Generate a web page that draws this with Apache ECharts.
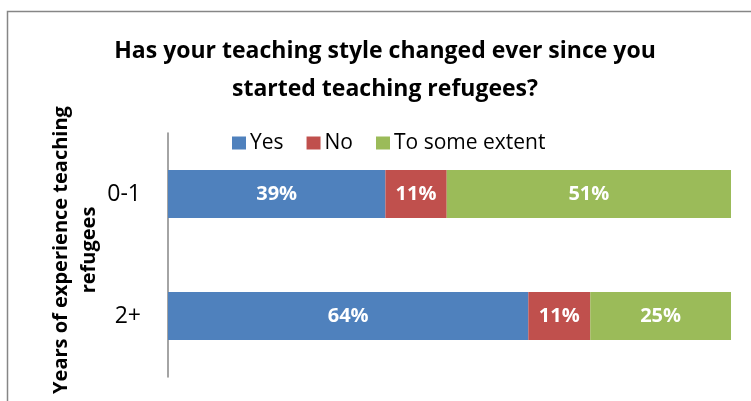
<!DOCTYPE html>
<html>
<head>
<meta charset="utf-8">
<script src="https://cdn.jsdelivr.net/npm/echarts@6/dist/echarts.min.js"></script>
<style>
  html, body { margin: 0; padding: 0; background: #fff; }
  #chart { width: 751px; height: 401px; }
</style>
</head>
<body>
<div id="chart"></div>
<script>
// Survey answers by years of experience teaching refugees (percent of respondents)
const categories = ['0-1', '2+'];
const seriesNames = ['Yes', 'No', 'To some extent'];
const yesValues = [39, 64];
const noValues = [11, 11];
const someValues = [51, 25];

const colors = ['#4F81BD', '#C0504D', '#9BBB59'];
const raw = [yesValues, noValues, someValues];

// 100% stacked: each segment is its share of the row total (0-1 rounds to 101)
const rowTotals = categories.map((_, i) => raw.reduce((s, arr) => s + arr[i], 0));
const shares = raw.map(arr => arr.map((v, i) => v / rowTotals[i] * 100));

const FONT = '"Open Sans"';

const chart = echarts.init(document.getElementById('chart'), null, { renderer: 'canvas' });

chart.setOption({
  animation: false,
  backgroundColor: '#ffffff',
  textStyle: { fontFamily: FONT },
  title: {
    text: 'Has your teaching style changed ever since you\nstarted teaching refugees?',
    left: 385,
    top: 32,
    padding: 0,
    textAlign: 'center',
    textStyle: {
      fontFamily: FONT,
      fontWeight: 'bold',
      fontSize: 23,
      lineHeight: 38,
      color: '#000000'
    }
  },
  legend: {
    data: seriesNames,
    left: 232,
    top: 132,
    padding: 0,
    itemWidth: 14,
    itemHeight: 13,
    itemGap: 23,
    icon: 'rect',
    textStyle: { fontFamily: FONT, fontSize: 21, lineHeight: 22, color: '#000000', padding: [0, 0, 0, -1] }
  },
  grid: { left: 168, right: 20, top: 133, bottom: 24, containLabel: false },
  xAxis: {
    type: 'value',
    min: 0,
    max: 100,
    show: false
  },
  yAxis: {
    type: 'category',
    data: categories,
    inverse: true,
    axisLine: { show: true, lineStyle: { color: '#868686', width: 1.5 } },
    axisTick: { show: false },
    axisLabel: { fontFamily: FONT, fontSize: 23, color: '#000000', margin: 27 }
  },
  series: seriesNames.map((name, s) => ({
    name: name,
    type: 'bar',
    stack: 'total',
    barWidth: 48,
    itemStyle: { color: colors[s] },
    label: {
      show: true,
      position: 'inside',
      color: '#ffffff',
      fontFamily: FONT,
      fontWeight: 'bold',
      fontSize: 20,
      formatter: p => raw[s][p.dataIndex] + '%'
    },
    data: shares[s]
  })),
  graphic: [
    {
      // chart-area frame
      type: 'rect',
      shape: { x: 7.5, y: 11.5, width: 800, height: 500 },
      style: { fill: 'none', stroke: '#868686', lineWidth: 1.5 },
      silent: true,
      z: -1
    },
    {
      // vertical axis title
      type: 'text',
      x: 75,
      y: 250,
      rotation: Math.PI / 2,
      style: {
        text: 'Years of experience teaching\nrefugees',
        font: 'bold 20px "Open Sans"',
        lineHeight: 28,
        fill: '#000000',
        align: 'center',
        verticalAlign: 'middle'
      },
      silent: true
    }
  ]
});
</script>
</body>
</html>
